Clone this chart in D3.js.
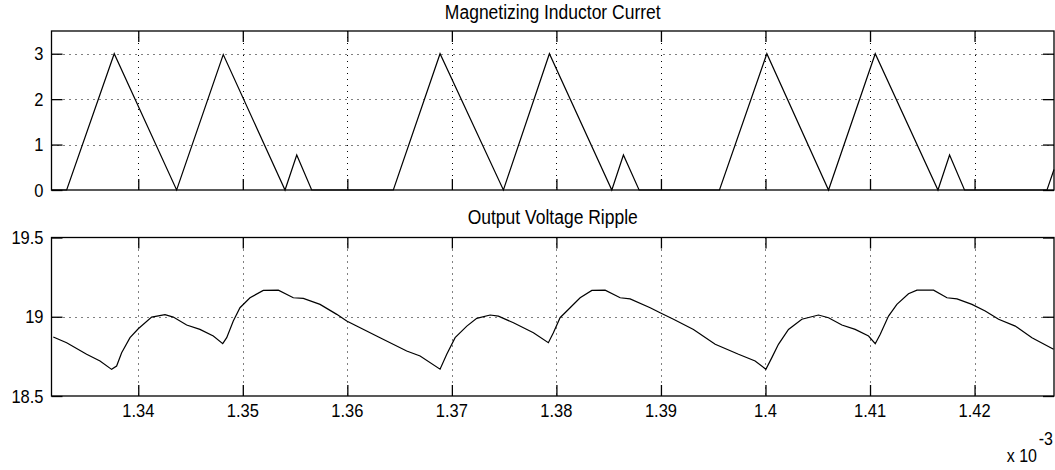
<!DOCTYPE html>
<html>
<head>
<meta charset="utf-8">
<script src="https://cdn.jsdelivr.net/npm/d3@7"></script>
<style>
  html, body { margin: 0; padding: 0; background: #fff; }
  svg text { font-family: "Liberation Sans", Arial, sans-serif; fill: #000; }
</style>
</head>
<body>
<svg id="chart" width="1055" height="470"></svg>
<script>
// time in units of 1e-3 s
var xTicks = [1.34, 1.35, 1.36, 1.37, 1.38, 1.39, 1.40, 1.41, 1.42];
var xTickLabels = ["1.34", "1.35", "1.36", "1.37", "1.38", "1.39", "1.4", "1.41", "1.42"];

// magnetizing inductor current
var currentTime = [1.3317, 1.33315, 1.33770, 1.34367, 1.34813, 1.35404, 1.35516, 1.35659,
  1.36440, 1.36887, 1.37493, 1.37933, 1.38530, 1.38641, 1.38791,
  1.39560, 1.40013, 1.40603, 1.41050, 1.41650, 1.41761, 1.41904,
  1.42693, 1.4276];
var currentValue = [0, 0, 3.0, 0, 2.98, 0, 0.77, 0,
  0, 3.0, 0, 3.0, 0, 0.77, 0,
  0, 3.0, 0, 3.0, 0, 0.77, 0,
  0, 0.45];
var currentTicks = [0, 1, 2, 3];

// output voltage ripple
var voltageTime = [1.33187, 1.33315, 1.33506, 1.33634, 1.33745, 1.33793, 1.33841, 1.33921,
  1.34000, 1.34128, 1.34256, 1.34335, 1.34463, 1.34590, 1.34718, 1.34808, 1.34846, 1.34909,
  1.34973, 1.35069, 1.35196, 1.35340, 1.35483, 1.35579, 1.35739, 1.35899, 1.35994, 1.36313,
  1.36568, 1.36696, 1.36887, 1.36951, 1.37031, 1.37143, 1.37238, 1.37366, 1.37445, 1.37589,
  1.37780, 1.37923, 1.37971, 1.38035, 1.38131, 1.38227, 1.38339, 1.38466, 1.38610, 1.38705,
  1.38897, 1.38992, 1.39120, 1.39311, 1.39519, 1.39742, 1.39901, 1.40004, 1.40061, 1.40124,
  1.40220, 1.40348, 1.40507, 1.40603, 1.40731, 1.40858, 1.40986, 1.41050, 1.41098, 1.41177,
  1.41257, 1.41368, 1.41449, 1.41608, 1.41736, 1.41832, 1.41975, 1.42102, 1.42230, 1.42390,
  1.42549, 1.42756];
var voltageValue = [18.872, 18.836, 18.763, 18.721, 18.668, 18.689, 18.773, 18.868,
  18.924, 18.998, 19.013, 18.998, 18.948, 18.920, 18.878, 18.830, 18.868, 18.973,
  19.057, 19.120, 19.166, 19.168, 19.120, 19.116, 19.078, 19.015, 18.973, 18.868,
  18.784, 18.752, 18.669, 18.763, 18.868, 18.941, 18.990, 19.011, 19.004, 18.962,
  18.899, 18.836, 18.899, 18.994, 19.057, 19.120, 19.166, 19.168, 19.120, 19.113,
  19.057, 19.025, 18.984, 18.920, 18.826, 18.763, 18.721, 18.669, 18.742, 18.826,
  18.920, 18.984, 19.011, 18.994, 18.948, 18.920, 18.878, 18.830, 18.889, 19.004,
  19.078, 19.145, 19.168, 19.168, 19.120, 19.113, 19.078, 19.036, 18.984, 18.941,
  18.868, 18.795];
var voltageTicks = [18.5, 19, 19.5];
var voltageTickLabels = ["18.5", "19", "19.5"];

var titles = ["Magnetizing Inductor Curret", "Output Voltage Ripple"];

var svg = d3.select("#chart");
var left = 51.5, right = 1054;
var fontSize = 16.5, stretch = 1.15, tickLen = 11;

var x = d3.scaleLinear().domain([1.3317, 1.4276]).range([left, right]);

function addText(g, str, tx, ty, anchor, size) {
  return g.append("text")
    .attr("transform", "translate(" + tx + "," + ty + ") scale(1," + stretch + ")")
    .attr("text-anchor", anchor)
    .style("font-size", (size || fontSize) + "px")
    .text(str);
}

function drawPanel(cfg) {
  var y = d3.scaleLinear().domain(cfg.yDomain).range([cfg.bottom, cfg.top]);
  var g = svg.append("g");

  // dotted grid
  g.selectAll("line.vgrid")
    .data(xTicks)
    .enter().append("line")
    .attr("x1", function(d) { return Math.round(x(d)) + 0.5; })
    .attr("x2", function(d) { return Math.round(x(d)) + 0.5; })
    .attr("y1", cfg.top).attr("y2", cfg.bottom)
    .attr("stroke", "#000").attr("stroke-width", 1)
    .attr("stroke-dasharray", "1,5");

  g.selectAll("line.hgrid")
    .data(cfg.yTicks.filter(function(d) { return d > cfg.yDomain[0] && d < cfg.yDomain[1]; }))
    .enter().append("line")
    .attr("x1", left).attr("x2", right)
    .attr("y1", function(d) { return Math.round(y(d)) + 0.5; })
    .attr("y2", function(d) { return Math.round(y(d)) + 0.5; })
    .attr("stroke", "#000").attr("stroke-width", 1)
    .attr("stroke-dasharray", "1,5");

  // inner ticks, both sides
  var axB = d3.axisBottom(x).tickValues(xTicks).tickSizeInner(-tickLen).tickSizeOuter(0).tickFormat("");
  var axT = d3.axisTop(x).tickValues(xTicks).tickSizeInner(-tickLen).tickSizeOuter(0).tickFormat("");
  var axL = d3.axisLeft(y).tickValues(cfg.yTicks).tickSizeInner(-tickLen).tickSizeOuter(0).tickFormat("");
  var axR = d3.axisRight(y).tickValues(cfg.yTicks).tickSizeInner(-tickLen).tickSizeOuter(0).tickFormat("");
  g.append("g").attr("transform", "translate(0," + cfg.bottom + ")").call(axB);
  g.append("g").attr("transform", "translate(0," + cfg.top + ")").call(axT);
  g.append("g").attr("transform", "translate(" + left + ",0)").call(axL);
  g.append("g").attr("transform", "translate(" + right + ",0)").call(axR);
  g.selectAll(".domain").remove();
  g.selectAll(".tick line").attr("stroke", "#000").attr("stroke-width", 1.3);

  // data line
  var pts = d3.zip(cfg.xs, cfg.ys);
  g.append("path")
    .datum(pts)
    .attr("fill", "none")
    .attr("stroke", "#000")
    .attr("stroke-width", 1.2)
    .attr("d", d3.line().x(function(d) { return x(d[0]); }).y(function(d) { return y(d[1]); }));

  // frame
  g.append("rect")
    .attr("x", left).attr("y", cfg.top)
    .attr("width", right - left).attr("height", cfg.bottom - cfg.top)
    .attr("fill", "none").attr("stroke", "#000").attr("stroke-width", 1.3);

  // y labels
  cfg.yTicks.forEach(function(d, i) {
    addText(g, cfg.yLabels[i], left - 8, y(d) + 6.5, "end");
  });

  // title
  addText(g, cfg.title, (left + right) / 2, cfg.titleY, "middle", 17.5);

  if (cfg.xLabels) {
    xTicks.forEach(function(d, i) {
      addText(g, xTickLabels[i], x(d), cfg.bottom + 21, "middle");
    });
  }
}

drawPanel({
  top: 31, bottom: 190, yDomain: [0, 3.5],
  yTicks: currentTicks, yLabels: currentTicks.map(String),
  xs: currentTime, ys: currentValue,
  title: titles[0], titleY: 19, xLabels: false
});

drawPanel({
  top: 237.5, bottom: 396, yDomain: [18.5, 19.5],
  yTicks: voltageTicks, yLabels: voltageTickLabels,
  xs: voltageTime, ys: voltageValue,
  title: titles[1], titleY: 223.5, xLabels: true
});

// exponent label
var ex = svg.append("g");
addText(ex, "x 10", 1037, 462, "end", 16);
addText(ex, "-3", 1053, 445, "end", 16);
</script>
</body>
</html>
